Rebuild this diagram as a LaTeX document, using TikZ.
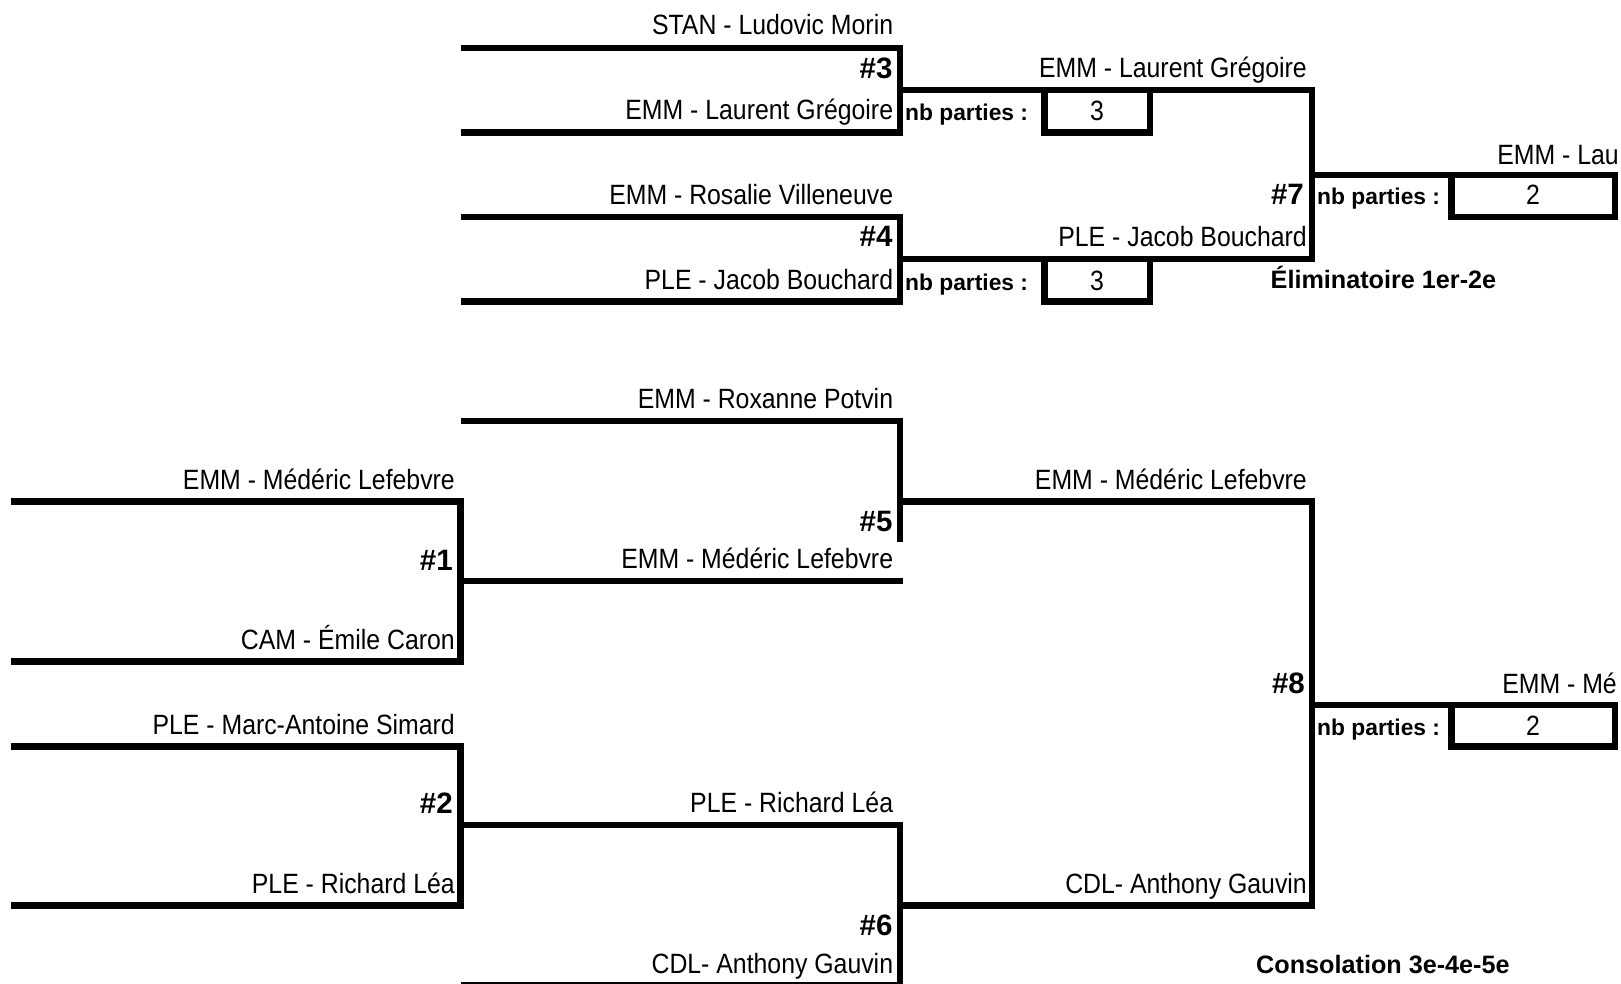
\documentclass[tikz,border=0pt]{standalone}
\usepackage{fontspec}
\setmainfont{Liberation Sans}
\newfontfamily\nmfont[FakeStretch=0.89]{Liberation Sans}
\begin{document}
\begin{tikzpicture}[x=1pt,y=-1pt,
  br/.style={line width=6.7pt, line join=miter},
  nm/.style={font=\nmfont\fontsize{27.9}{30}\selectfont, inner sep=0pt, anchor=base east},
  num/.style={font=\bfseries\fontsize{29.5}{32}\selectfont, inner sep=0pt, anchor=base east},
  nbp/.style={font=\bfseries\fontsize{22.8}{26}\selectfont, inner sep=0pt, anchor=base west},
  boxnum/.style={font=\nmfont\fontsize{27.9}{30}\selectfont, inner sep=0pt, anchor=base},
  ttl/.style={font=\bfseries\fontsize{25.2}{28}\selectfont, inner sep=0pt, anchor=base west}]
\useasboundingbox (0,0) rectangle (1621,984);
\clip (0,0) rectangle (1621,984);

% ---------- coordinates: top bracket ----------
\coordinate (t3a) at (460.7,48);   \coordinate (t3c) at (900,48);
\coordinate (t3d) at (900,132.5);  \coordinate (t3b) at (460.7,132.5);
\coordinate (t3o) at (900,90);     \coordinate (t7a) at (1312,90);
\coordinate (t4a) at (460.7,217);  \coordinate (t4c) at (900,217);
\coordinate (t4d) at (900,301.5);  \coordinate (t4b) at (460.7,301.5);
\coordinate (t4o) at (900,259);    \coordinate (t7b) at (1312,259);
\coordinate (t7o) at (1312,175);   \coordinate (t7e) at (1618.3,175);
% boxes
\coordinate (b3a) at (1044.5,90);  \coordinate (b3b) at (1044.5,132.5);
\coordinate (b3c) at (1150,132.5); \coordinate (b3d) at (1150,90);
\coordinate (b4a) at (1044.5,259); \coordinate (b4b) at (1044.5,301.5);
\coordinate (b4c) at (1150,301.5); \coordinate (b4d) at (1150,259);
\coordinate (b7a) at (1451.5,175); \coordinate (b7b) at (1451.5,217);
\coordinate (b7c) at (1615,217);   \coordinate (b7d) at (1615,175);

% ---------- coordinates: bottom bracket ----------
\coordinate (s5a) at (460.7,421);  \coordinate (s5c) at (900,421);
\coordinate (s5d) at (900,541.7);
\coordinate (s5o) at (900,501.4);  \coordinate (s8a) at (1312,501.4);
\coordinate (s8b) at (1312,905.6); \coordinate (s6o) at (900,905.6);
\coordinate (s1a) at (10.5,501.4); \coordinate (s1c) at (460.3,501.4);
\coordinate (s1d) at (460.3,661.6);\coordinate (s1b) at (10.5,661.6);
\coordinate (s1o) at (460.3,581);  \coordinate (s1e) at (903,581);
\coordinate (s2a) at (10.5,746.4); \coordinate (s2c) at (460.3,746.4);
\coordinate (s2d) at (460.3,905.6);\coordinate (s2b) at (10.5,905.6);
\coordinate (s2o) at (460.3,825);  \coordinate (s6c) at (900,825);
\coordinate (s6d) at (900,985);    \coordinate (s6b) at (460.7,985);
\coordinate (s8o) at (1312,705);   \coordinate (s8e) at (1618.3,705);
\coordinate (b8a) at (1451.5,705); \coordinate (b8b) at (1451.5,746.5);
\coordinate (b8c) at (1615,746.5); \coordinate (b8d) at (1615,705);

% ---------- lines ----------
\draw[br] (t3a) -- (t3c) -- (t3d) -- (t3b);
\draw[br] (t4a) -- (t4c) -- (t4d) -- (t4b);
\draw[br] (t3o) -- (t7a) -- (t7b) -- (t4o);
\draw[br] (t7o) -- (t7e);
\draw[br] (b3a) -- (b3b) -- (b3c) -- (b3d);
\draw[br] (b4a) -- (b4b) -- (b4c) -- (b4d);
\draw[br] (b7a) -- (b7b) -- (b7c) -- (b7d);

\draw[br] (s5a) -- (s5c) -- (s5d);
\draw[br] (s5o) -- (s8a) -- (s8b) -- (s6o);
\draw[br] (s1a) -- (s1c) -- (s1d) -- (s1b);
\draw[br] (s1o) -- (s1e);
\draw[br] (s2a) -- (s2c) -- (s2d) -- (s2b);
\draw[br] (s2o) -- (s6c) -- (s6d) -- (s6b);
\draw[br] (s8o) -- (s8e);
\draw[br] (b8a) -- (b8b) -- (b8c) -- (b8d);

% ---------- texts: top ----------
\node[nm] (n3a) at (893.3,35) {STAN - Ludovic Morin};
\node[num] (h3) at (892.7,78.3) {\#3};
\node[nm] (n3b) at (893.3,120) {EMM - Laurent Grégoire};
\node[nm] (n4a) at (893.3,204.5) {EMM - Rosalie Villeneuve};
\node[num] (h4) at (892.7,247) {\#4};
\node[nm] (n4b) at (893.3,289) {PLE - Jacob Bouchard};
\node[nm] (n7a) at (1307,78) {EMM - Laurent Grégoire};
\node[nm] (n7b) at (1307,246.5) {PLE - Jacob Bouchard};
\node[num] (h7) at (1304,205) {\#7};
\node[nbp] (p3) at (905,121) {nb parties :};
\node[nbp] (p4) at (905,290) {nb parties :};
\node[nbp] (p7) at (1317,205) {nb parties :};
\node[boxnum] (v3) at (1097,121) {3};
\node[boxnum] (v4) at (1097,290) {3};
\node[boxnum] (v7) at (1533,205) {2};
\node[ttl] (elim) at (1270.5,288.3) {Éliminatoire 1er-2e};
\node[nm] (w7) at (1619,165) {EMM - Lau};
\node[nm] (w8) at (1617,693) {EMM - Mé};

% ---------- texts: bottom ----------
\node[nm] (c1a) at (455,489) {EMM - Médéric Lefebvre};
\node[num] (h1) at (453,570.5) {\#1};
\node[nm] (c1b) at (455,649) {CAM - Émile Caron};
\node[nm] (c2a) at (455,734) {PLE - Marc-Antoine Simard};
\node[num] (h2) at (453,813) {\#2};
\node[nm] (c2b) at (455,893) {PLE - Richard Léa};
\node[nm] (c5a) at (893.3,408.5) {EMM - Roxanne Potvin};
\node[num] (h5) at (892.7,531.7) {\#5};
\node[nm] (c5b) at (893.3,568.5) {EMM - Médéric Lefebvre};
\node[nm] (c6a) at (893.3,812.5) {PLE - Richard Léa};
\node[num] (h6) at (892.7,935) {\#6};
\node[nm] (c6b) at (893.3,973) {CDL- Anthony Gauvin};
\node[nm] (c8a) at (1307,489) {EMM - Médéric Lefebvre};
\node[num] (h8) at (1305,693) {\#8};
\node[nm] (c8b) at (1307,893) {CDL- Anthony Gauvin};
\node[nbp] (p8) at (1317,735) {nb parties :};
\node[boxnum] (v8) at (1533,735) {2};
\node[ttl] (cons) at (1256,973.3) {Consolation 3e-4e-5e};
\end{tikzpicture}
\end{document}
